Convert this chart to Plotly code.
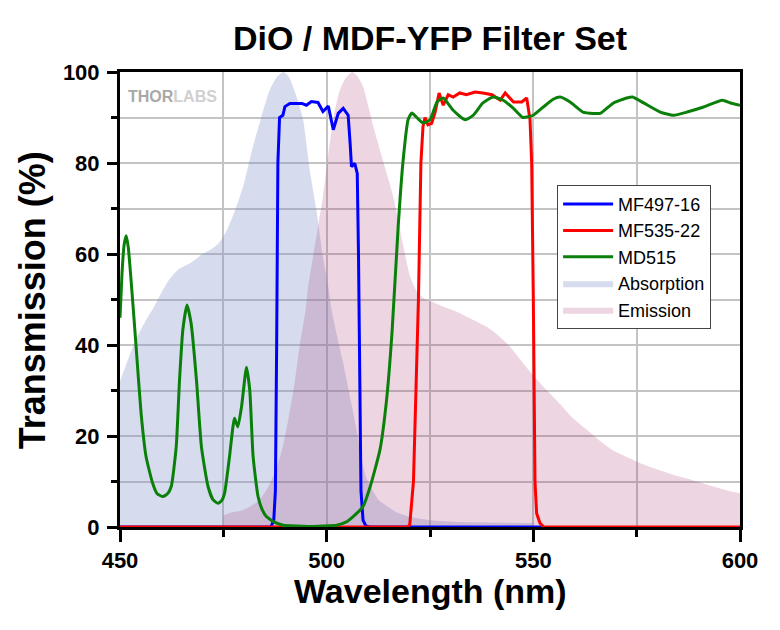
import plotly.graph_objects as go

# ---------------- data ----------------
abs_wl = [450, 452, 454, 456, 458, 460, 462, 464, 467, 470, 472, 474, 476, 478, 480, 482, 484,
          486.2, 487.8, 489.5, 490.8, 492.7, 494.3, 495.9, 497.5, 499.1, 500.4, 501.2, 502.5,
          504, 506, 507.3, 508.4, 509.5, 510.8, 512.5, 514.9, 517, 520.4, 525, 532.5, 540, 550]
abs_val = [32, 37, 41.5, 45, 48, 51.5, 54.5, 56.5, 58, 60, 61, 62.5, 65.5, 70, 75.5, 83, 89.5,
           96, 98.7, 100, 99, 94.6, 89.5, 78.5, 69.7, 59.4, 52.8, 47.7, 42,
           36, 27, 21, 15, 11, 8.5, 6, 4.4, 3.2, 2.2, 1.5, 1.1, 1.0, 0.9]

em_wl = [475, 477, 479.7, 482, 483.8, 486, 487.9, 489.5, 491, 492.3, 493.5, 494.9, 495.5, 496.7,
         497.9, 499.1, 500.4, 502, 503.2, 504.5, 506.2, 507.5, 508.8, 510.5, 511.3, 513.6, 516,
         518.5, 520.2, 522, 524, 525.5, 528, 532.2, 535.5, 538.7, 541, 543.6, 546, 548.4, 550.8,
         553.3, 556.5, 559.5, 563, 566, 569, 572.6, 576.5, 580.6, 584.5, 588.5, 592.5, 596.7, 600]
em_val = [2.6, 3.2, 3.7, 4.8, 6, 9, 13, 18, 25, 32, 40, 47.7, 52.8, 59.4,
          66, 72.6, 82, 91.6, 96, 98.5, 100, 99, 96.8, 91, 88, 80.6, 73,
          62, 55, 51.5, 50, 49.5, 48.5, 47, 45.5, 44, 42.5, 40.4, 37.8, 35, 32.5,
          30, 27, 24, 21.3, 19, 17, 15.4, 13.8, 12.5, 11.3, 10.3, 9.2, 8.1, 7.4]

mf497_wl = [450, 486.5, 487.2, 487.6, 487.9, 488.2, 488.6, 489.4, 489.9, 491.1, 494, 495.1,
            496.3, 497.9, 499.1, 500.4, 501.6, 502.8, 504, 505.2, 505.7, 506, 506.8, 507.4,
            507.7, 508, 508.3, 508.8, 509.5, 510.5, 552]
mf497_val = [0, 0, 1.5, 8, 40, 80, 90, 90.5, 92.4, 93.1, 93.1, 92.7,
             93.5, 93.3, 91.3, 92.5, 87.3, 90.9, 92, 90.5, 84, 79.2, 79.9, 77.7,
             60, 30, 8, 1.5, 0.2, 0, 0]

mf535_wl = [450, 519.6, 520.1, 521, 521.6, 522.2, 522.8, 523.3, 523.8, 524.5, 525.4, 526.2,
            527.2, 528.2, 529.4, 530.6, 532.2, 533.8, 535.9, 537.8, 540, 542, 543.2, 545.2,
            547.2, 548.4, 549.2, 549.6, 550, 550.4, 550.8, 551.6, 552.5, 600]
mf535_val = [0, 0, 0.5, 10, 30, 50, 80, 88, 90, 88.4, 88.7, 91,
             95.4, 92.7, 95, 94.5, 95.4, 95, 95.6, 95.4, 95, 93.8, 95.4, 93.4,
             93.4, 94.3, 89.5, 80, 50, 10, 3, 0.9, 0, 0]

md515_wl = [450, 450.5, 451, 451.5, 452, 452.7, 453.9, 455.1, 456.3, 457.9, 459, 460.4, 461.5,
            462.4, 463.6, 464.4, 465.2, 466.2, 467.2, 468.5, 469.7, 471.3, 472.5, 473.7, 474.6,
            475.3, 476.5, 477.7, 478.5, 479.4, 480.6, 481.4, 482.2, 483.4, 484.4, 485.4, 487.5,
            489.5, 493, 496, 499, 502.4, 504.5, 506.4, 508.8, 510.5, 512.9, 514.5, 515.8, 517.3,
            518.5, 519.7, 520.6, 521.8, 523.3, 525, 526.7, 528.2, 530.6, 533.5, 535.5, 537.8,
            540.3, 542.7, 545.2, 547.5, 550, 552.4, 554.8, 556.5, 558.9, 562, 564.6, 566.2,
            569.4, 572.6, 574, 576.7, 580.7, 583.9, 587.2, 591.2, 595.7, 597.7, 600]
md515_val = [46, 56, 62, 64, 61.5, 54, 39.6, 25, 15.5, 9.6, 7.3, 6.7, 7.3,
             8.9, 17.6, 32.3, 43.3, 48.8, 44.8, 32.3, 17.6, 8.9, 6, 5.2, 5.8,
             7.4, 15.5, 23.9, 22, 26.4, 35.1, 30, 15.5, 6.7, 3.8, 2.3, 1,
             0.4, 0.2, 0.1, 0.2, 0.4, 1, 2.3, 4.5, 8.8, 17, 28, 42.6, 66,
             80.6, 89.5, 91, 90, 88.8, 89.5, 93.4, 94.3, 91.6, 89.5, 90.5, 93.2,
             94.5, 93.8, 92, 90, 90.5, 92.3, 94, 94.5, 93.4, 91.2, 90.9, 90.9,
             93.2, 94.3, 94.5, 93.2, 91.2, 90.5, 91.2, 92.3, 93.8, 93.2, 92.7]

x_tick_vals = [450, 500, 550, 600]
y_tick_vals = [0, 20, 40, 60, 80, 100]

# ---------------- figure ----------------
fig = go.Figure()

fig.add_trace(go.Scatter(x=abs_wl, y=abs_val, name="Absorption", mode="lines",
                         line=dict(width=0, shape="spline", smoothing=0.6),
                         fill="tozeroy", fillcolor="rgba(118,138,198,0.30)",
                         legendrank=4, hoverinfo="skip"))
fig.add_trace(go.Scatter(x=em_wl, y=em_val, name="Emission", mode="lines",
                         line=dict(width=0, shape="spline", smoothing=0.6),
                         fill="tozeroy", fillcolor="rgba(165,45,110,0.20)",
                         legendrank=5, hoverinfo="skip"))
fig.add_trace(go.Scatter(x=mf497_wl, y=mf497_val, name="MF497-16", mode="lines",
                         line=dict(color="#0000ff", width=3), legendrank=1))
fig.add_trace(go.Scatter(x=mf535_wl, y=mf535_val, name="MF535-22", mode="lines",
                         line=dict(color="#ff0000", width=3), legendrank=2))
fig.add_trace(go.Scatter(x=md515_wl, y=md515_val, name="MD515", mode="lines",
                         line=dict(color="#0a800a", width=3, shape="spline", smoothing=0.5),
                         legendrank=3))

bold_tick = dict(family="Arial", size=22, color="black", weight="bold")

FIG_W, FIG_H = 772, 622   # page body adds an 8 px offset

fig.update_layout(
    width=FIG_W, height=FIG_H,
    margin=dict(l=112, r=40, t=64, b=103),
    paper_bgcolor="white", plot_bgcolor="white",
    font=dict(family="Arial", color="black"),
    showlegend=True,
    title=dict(text="DiO / MDF-YFP Filter Set", x=0.5, xref="paper",
               y=1 - 30 / FIG_H, yref="container", yanchor="middle", xanchor="center",
               font=dict(family="Arial", size=34, color="black", weight="bold")),
    legend=dict(x=0.705, y=0.752, xanchor="left", yanchor="top",
                bgcolor="white", bordercolor="#444444", borderwidth=1,
                font=dict(family="Arial", size=18, color="black"),
                itemwidth=50, tracegroupgap=0),
)

fig.update_xaxes(
    range=[450, 600], tickvals=x_tick_vals, ticktext=[str(v) for v in x_tick_vals],
    showline=True, linecolor="black", linewidth=3, mirror=True,
    ticks="outside", ticklen=12, tickwidth=3, tickcolor="black",
    tickfont=bold_tick,
    showgrid=True, gridcolor="#c4c4c4", gridwidth=1.5, zeroline=False,
    minor=dict(dtick=25, tick0=450, ticks="outside", ticklen=7, tickwidth=3,
               tickcolor="black", showgrid=True, gridcolor="#c4c4c4", gridwidth=1.5),
    layer="below traces",
)
fig.update_yaxes(
    range=[0, 100], tickvals=y_tick_vals, ticktext=[str(v) for v in y_tick_vals],
    showline=True, linecolor="black", linewidth=3, mirror=True,
    ticks="outside", ticklen=10, tickwidth=3, tickcolor="black",
    tickfont=bold_tick, ticklabelstandoff=3,
    showgrid=True, gridcolor="#c4c4c4", gridwidth=1.5, zeroline=False,
    minor=dict(dtick=10, tick0=0, ticks="outside", ticklen=6, tickwidth=3,
               tickcolor="black", showgrid=True, gridcolor="#c4c4c4", gridwidth=1.5),
    layer="below traces",
)

fig.add_annotation(text="Wavelength (nm)", xref="paper", yref="paper",
                   x=0.5, y=(527 - 591) / 455, xanchor="center", yanchor="middle",
                   showarrow=False,
                   font=dict(family="Arial", size=34, color="black", weight="bold"))
fig.add_annotation(text="Transmission (%)", xref="paper", yref="paper",
                   x=(33 - 120.5) / 619, y=(527 - 300) / 455, xanchor="center",
                   yanchor="middle", textangle=-90, showarrow=False,
                   font=dict(family="Arial", size=36, color="black", weight="bold"))
fig.add_annotation(text="<b>THOR</b><span style='color:#d0d0d0'><b>LABS</b></span>",
                   xref="paper", yref="paper", x=(126 - 120.5) / 619, y=(527 - 96) / 455,
                   xanchor="left", yanchor="middle", showarrow=False,
                   font=dict(family="Arial", size=16, color="#a8a8a8"))

fig.write_html("out.html")
